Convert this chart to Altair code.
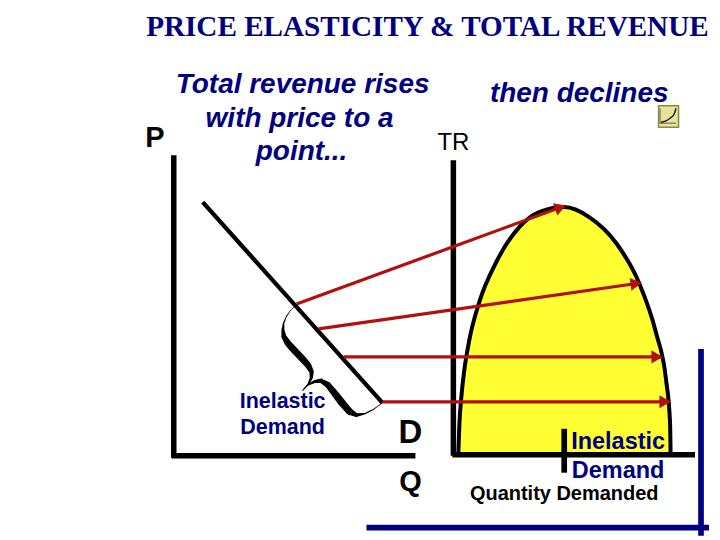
import math
import altair as alt
import pandas as pd

NAVY = "#000080"
RED = "#B01010"
BLACK = "#000000"

# curve of total revenue
tr_x = [459, 460, 462, 465, 470, 480, 497, 520, 540, 565, 590, 617, 640, 657, 667, 671, 671.5]
tr_y = [453, 425, 397, 370, 340, 302, 262, 227, 212, 207, 217, 243, 283, 333, 380, 423, 453]
tr_base = [453] * len(tr_x)

# straight segments: x1, y1, x2, y2, width, colour
seg_x1 = [174, 172, 203, 454, 453, 565, 702, 367]
seg_y1 = [155, 456, 202, 160, 455, 429, 349, 528]
seg_x2 = [174, 416, 383, 454, 696, 565, 702, 710]
seg_y2 = [458, 456, 403, 456, 455, 473, 536, 528]
seg_w = [5.5, 5.5, 4.3, 5.5, 5.5, 5.7, 5.7, 5.7]
seg_c = [BLACK, BLACK, BLACK, BLACK, BLACK, BLACK, NAVY, NAVY]

# arrows from demand to total revenue
arr_x1 = [297, 319, 344, 383]
arr_y1 = [304, 329, 357, 402]
arr_x2 = [565, 641, 662, 670]
arr_y2 = [206, 283, 357, 402]

# brace
br1_x = [295, 290.7, 286.7, 284, 283.3, 284.3, 288.3, 295, 301.7, 308.3, 312, 311.7, 308.3, 303]
br1_y = [306.7, 310.7, 316.7, 323.3, 330, 336.7, 343.3, 350.7, 357.7, 365, 371.7, 378.3, 385, 390.7]
br1_w = [0.6, 0.7, 1, 1.5, 3, 5, 6.5, 7, 7, 6.5, 4.5, 3, 1.5, 0.6]
br2_x = [303, 308.3, 315, 321.7, 328.3, 335, 342.7, 350, 356.7, 365, 373.3, 382.7]
br2_y = [390.7, 385, 381.7, 381, 385, 393.3, 403.3, 411.7, 415.3, 414, 410, 403.3]
br2_w = [0.6, 1.5, 3, 4.5, 6, 7, 7.5, 7, 4, 1.5, 1, 0.6]

# small icon
icon_curve_x = [662, 666, 671, 675, 677]
icon_curve_y = [122, 121, 118, 114, 108]
icon_ax_x = [661, 661, 677]
icon_ax_y = [108, 123, 123]

# texts
txt = ["PRICE ELASTICITY & TOTAL REVENUE", "Total revenue rises", "with price to a", "point...",
       "then declines", "P", "TR", "Inelastic", "Demand", "D", "Q", "Inelastic", "Demand",
       "Quantity Demanded"]
txt_x = [428, 303, 300, 302, 580, 155, 454, 283, 283, 411, 411, 619, 619, 565]
txt_y = [36, 93, 127, 160, 102, 147, 150, 408, 434, 443, 491, 449, 478, 500]
txt_s = [29.2, 28, 28, 28, 28, 29, 24, 21.5, 21.5, 33, 29, 23.5, 23.5, 20]
txt_c = [NAVY, NAVY, NAVY, NAVY, NAVY, BLACK, BLACK, NAVY, NAVY, BLACK, BLACK, NAVY, NAVY, BLACK]
txt_f = ["Liberation Serif"] + ["Liberation Sans"] * 13
txt_st = ["normal", "italic", "italic", "italic", "italic"] + ["normal"] * 9
txt_w = ["bold"] * 6 + ["normal"] + ["bold"] * 7

X = alt.Scale(domain=[8, 712], range=[0, 704])
Y = alt.Scale(domain=[8, 532], range=[0, 524])


def xe(f):
    return alt.X(f, type="quantitative", scale=X, axis=None)


def ye(f):
    return alt.Y(f, type="quantitative", scale=Y, axis=None)


tr = pd.DataFrame({"x": tr_x, "y": tr_y, "b": tr_base})
area = alt.Chart(tr).mark_area(color="#FFFF33", interpolate="monotone").encode(
    x=xe("x"), y=ye("y"), y2="b")
curve = alt.Chart(tr).mark_line(color=BLACK, strokeWidth=4, interpolate="monotone").encode(
    x=xe("x"), y=ye("y"))

segs = pd.DataFrame({"x": seg_x1, "y": seg_y1, "x2": seg_x2, "y2": seg_y2, "w": seg_w, "c": seg_c})
rules = alt.Chart(segs).mark_rule().encode(
    x=xe("x"), y=ye("y"), x2="x2", y2="y2",
    strokeWidth=alt.StrokeWidth("w:Q", scale=None, legend=None),
    color=alt.Color("c:N", scale=None, legend=None))

arrows = pd.DataFrame({"x": arr_x1, "y": arr_y1, "x2": arr_x2, "y2": arr_y2})
shaft = alt.Chart(arrows).mark_rule(color=RED, strokeWidth=3.2).encode(
    x=xe("x"), y=ye("y"), x2="x2", y2="y2")
angles = [math.atan2(d - b, c - a) for a, b, c, d in zip(arr_x1, arr_y1, arr_x2, arr_y2)]
heads = pd.DataFrame({
    "x": [c - 4 * math.cos(t) for c, t in zip(arr_x2, angles)],
    "y": [d - 4 * math.sin(t) for d, t in zip(arr_y2, angles)],
    "ang": [math.degrees(t) % 360 for t in angles],
})
head = alt.Chart(heads).mark_point(shape="triangle-right", filled=True, color=RED, size=170, opacity=1).encode(
    x=xe("x"), y=ye("y"), angle=alt.Angle("ang:Q", scale=None))

brace1 = alt.Chart(pd.DataFrame({"x": br1_x, "y": br1_y, "w": br1_w, "o": range(len(br1_x))})).mark_trail(color=BLACK).encode(
    x=xe("x"), y=ye("y"), order="o:Q",
    size=alt.Size("w:Q", scale=None, legend=None))
brace2 = alt.Chart(pd.DataFrame({"x": br2_x, "y": br2_y, "w": br2_w, "o": range(len(br2_x))})).mark_trail(color=BLACK).encode(
    x=xe("x"), y=ye("y"), order="o:Q",
    size=alt.Size("w:Q", scale=None, legend=None))

icon_box = alt.Chart(pd.DataFrame({"x": [659.5], "y": [105.5], "x2": [679.5], "y2": [127]})).mark_rect(
    fill="#E6E49A", stroke="#8A8A40", strokeWidth=1.5).encode(x=xe("x"), y=ye("y"), x2="x2", y2="y2")
icon_ax = alt.Chart(pd.DataFrame({"x": icon_ax_x, "y": icon_ax_y, "o": [0, 1, 2]})).mark_line(
    color="#8A8A70", strokeWidth=1.5).encode(x=xe("x"), y=ye("y"), order="o:Q")
icon_c = alt.Chart(pd.DataFrame({"x": icon_curve_x, "y": icon_curve_y})).mark_line(
    color="#222222", strokeWidth=1.5, interpolate="monotone").encode(x=xe("x"), y=ye("y"))

layers = [area, curve, rules, shaft, head, brace1, brace2, icon_box, icon_ax, icon_c]
for t, x, y, s, c, f, st, w in zip(txt, txt_x, txt_y, txt_s, txt_c, txt_f, txt_st, txt_w):
    layers.append(
        alt.Chart(pd.DataFrame({"x": [x], "y": [y], "t": [t]})).mark_text(
            fontSize=s, color=c, font=f, fontStyle=st, fontWeight=w, align="center", baseline="alphabetic"
        ).encode(x=xe("x"), y=ye("y"), text="t:N")
    )

chart = alt.layer(*layers).properties(
    width=704, height=524, padding=0, background="white"
).configure_view(stroke=None)

chart.save("out.html", embed_options={"renderer": "svg", "actions": False})
